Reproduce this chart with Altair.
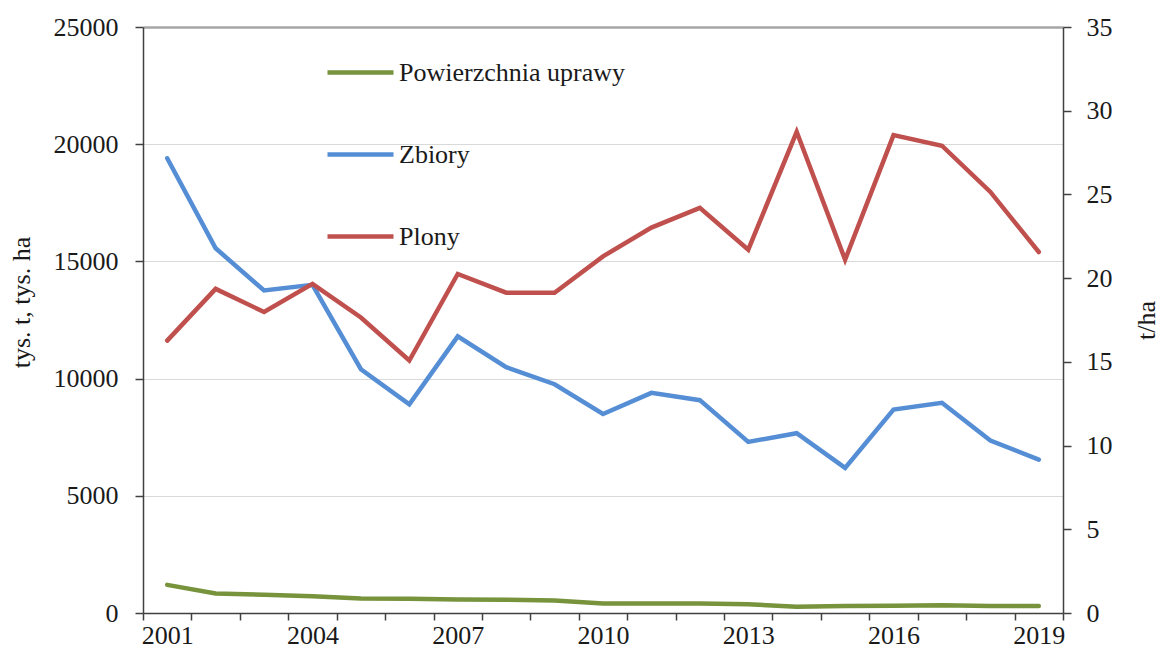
import altair as alt
import pandas as pd

years = list(range(2001, 2020))
powierzchnia = [1200, 830, 780, 710, 620, 610, 580, 570, 530, 410, 410, 400, 370, 270, 300, 310, 330, 300, 300]
zbiory = [19400, 15560, 13760, 14000, 10400, 8900, 11800, 10490, 9760, 8490, 9390, 9080, 7300, 7670, 6190, 8680, 8970, 7360, 6540]
plony = [16.27, 19.36, 17.98, 19.66, 17.65, 15.08, 20.25, 19.13, 19.13, 21.3, 23.02, 24.2, 21.7, 28.74, 21.1, 28.54, 27.91, 25.15, 21.56]

series = ["Powierzchnia uprawy", "Zbiory", "Plony"]
colors = ["#77933C", "#558ED5", "#C0504D"]
left_ticks = [0, 5000, 10000, 15000, 20000, 25000]
right_ticks = [0, 5, 10, 15, 20, 25, 30, 35]
x_labels = [2001, 2004, 2007, 2010, 2013, 2016, 2019]

FONT = "Liberation Serif"
PLOT_H = 586

left_df = pd.DataFrame(
    [{"year": y, "series": series[0], "value": v} for y, v in zip(years, powierzchnia)]
    + [{"year": y, "series": series[1], "value": v} for y, v in zip(years, zbiory)]
)
right_df = pd.DataFrame([{"year": y, "series": series[2], "value": v} for y, v in zip(years, plony)])

boundaries = [y - 0.5 for y in years] + [years[-1] + 0.5]
label_list = ",".join(str(v) for v in x_labels)
x_enc = alt.X(
    "year:Q",
    scale=alt.Scale(domain=[boundaries[0], boundaries[-1]], nice=False, zero=False),
    axis=alt.Axis(
        values=boundaries,
        title=None,
        grid=False,
        labelExpr=f"indexof([{label_list}], datum.value + 0.5) >= 0 ? '' + (datum.value + 0.5) : ''",
        labelOffset=24.2,
        labelAlign="center",
        labelBound=False,
        labelOverlap=False,
        labelFlush=False,
        labelPadding=2,
        tickSize=7,
    ),
)

color_enc = alt.Color(
    "series:N",
    scale=alt.Scale(domain=series, range=colors),
    legend=alt.Legend(
        title=None,
        orient="none",
        legendX=182,
        legendY=10,
        symbolType="stroke",
        symbolSize=4356,
        symbolStrokeWidth=4.5,
        labelFont=FONT,
        labelFontSize=26,
        labelColor="#1a1a1a",
        labelOffset=3,
        labelLimit=0,
        rowPadding=33,
        padding=0,
        values=series,
    ),
)

left = alt.Chart(left_df).mark_line(strokeWidth=4.5, strokeCap="round", strokeJoin="miter").encode(
    x=x_enc,
    y=alt.Y(
        "value:Q",
        scale=alt.Scale(domain=[0, 25000], nice=False),
        axis=alt.Axis(
            values=left_ticks,
            format="d",
            orient="left",
            title="tys. t, tys. ha",
            grid=True,
            gridColor={"condition": {"test": "datum.value === 25000", "value": "#A6A6A6"}, "value": "#D9D9D9"},
            gridWidth={"condition": {"test": "datum.value === 25000", "value": 2.5}, "value": 1},
            labelPadding=17,
            titleAngle=270,
            titleX=-114,
            titleY=275,
            titleAlign="center",
            titleBaseline="alphabetic",
        ),
    ),
    color=color_enc,
    order="year:Q",
)

right = alt.Chart(right_df).mark_line(strokeWidth=4.5, strokeCap="round", strokeJoin="miter").encode(
    x=x_enc,
    y=alt.Y(
        "value:Q",
        scale=alt.Scale(domain=[0, 35], nice=False),
        axis=alt.Axis(
            values=right_ticks,
            format="d",
            orient="right",
            title="t/ha",
            grid=False,
            labelPadding=15,
            titleAngle=270,
            titleX=91,
            titleY=PLOT_H / 2,
            titleAlign="center",
            titleBaseline="alphabetic",
        ),
    ),
    color=color_enc,
    order="year:Q",
)

chart = (
    alt.layer(left, right)
    .resolve_scale(y="independent")
    .properties(
        width=920,
        height=PLOT_H,
        autosize=alt.AutoSizeParams(type="none"),
        padding={"left": 135, "top": 19, "right": 97, "bottom": 642 - 19 - PLOT_H},
    )
    .configure(font=FONT)
    .configure_view(stroke=None)
    .configure_axis(
        labelFont=FONT,
        titleFont=FONT,
        labelFontSize=26,
        titleFontSize=26,
        titleFontWeight="normal",
        labelColor="#1a1a1a",
        titleColor="#1a1a1a",
        domainColor="#404040",
        tickColor="#404040",
        domainWidth=1.5,
        tickWidth=1.5,
        tickSize=8,
    )
)

chart.save("out.html", embed_options={"renderer": "svg", "actions": False})
